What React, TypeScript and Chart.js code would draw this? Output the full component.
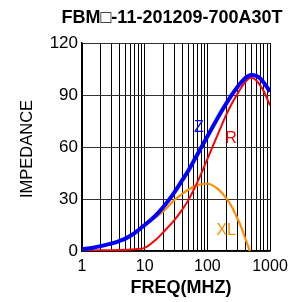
import React, { useEffect, useRef } from 'react';
import { Chart, registerables } from 'chart.js';

Chart.register(...registerables);

const TITLE = 'FBM\u25A1-11-201209-700A30T';
const X_TITLE = 'FREQ(MHZ)';
const Y_TITLE = 'IMPEDANCE';

const FREQ = [1, 1.5, 2, 3, 4, 5, 7, 10, 15, 20, 30, 40, 50, 70, 100, 150, 200, 250, 300, 350, 400, 450, 500, 600, 700, 800, 1000];
const Z_VALUES = [1, 1.9, 2.8, 4.4, 5.9, 7.3, 10.5, 15, 20.5, 25.5, 34, 41, 46.5, 56, 66, 77.5, 85, 90.5, 94.5, 97.5, 99.6, 100.9, 101.5, 101, 99.5, 97, 92];
const R_VALUES = [0.3, 0.35, 0.4, 0.5, 0.6, 0.7, 1, 1.8, 6.5, 11, 18, 24, 29.5, 40, 53, 68, 78.5, 85.5, 90.5, 94.5, 97.5, 99.3, 100, 98.5, 95.5, 92, 84];
const XL_VALUES = [1, 1.9, 2.8, 4.4, 5.9, 7.3, 10.5, 14.9, 19.5, 23, 29.5, 33, 35.5, 38, 38.8, 35.5, 30.5, 25, 19, 13.5, 7.5, 2.5, -3, -15, -25, -32, -40];

const X_GRID = [1, 2, 3, 4, 5, 6, 7, 8, 9, 10, 20, 30, 40, 50, 60, 70, 80, 90, 100, 200, 300, 400, 500, 600, 700, 800, 900, 1000];
const X_TICK_LABELS = [1, 10, 100, 1000];
const Y_MIN = 0;
const Y_MAX = 120;
const Y_STEP = 30;

const CURVE_LABELS = [
  { text: 'Z', f: 73.6, v: 71, color: '#0000ff' },
  { text: 'R', f: 239, v: 64.6, color: '#ff0000' },
  { text: 'XL', f: 200, v: 11.5, color: '#ff8c00' },
];

const FONT = '"Liberation Sans", Arial, Helvetica, sans-serif';

const textPlugin = {
  id: 'textPlugin',
  afterDraw(chart: any) {
    const { ctx, scales } = chart;
    ctx.save();
    ctx.textAlign = 'center';
    ctx.textBaseline = 'middle';
    ctx.fillStyle = '#000';
    ctx.font = `bold 18px ${FONT}`;
    ctx.fillText(TITLE, 172, 18);
    ctx.font = `bold 18px ${FONT}`;
    ctx.fillText(X_TITLE, 181, 288);
    ctx.save();
    ctx.translate(27, 149);
    ctx.rotate(-Math.PI / 2);
    ctx.font = `16.5px ${FONT}`;
    ctx.fillText(Y_TITLE, 0, 0);
    ctx.restore();
    ctx.font = `16px ${FONT}`;
    for (const l of CURVE_LABELS) {
      ctx.fillStyle = l.color;
      ctx.fillText(l.text, scales.x.getPixelForValue(l.f), scales.y.getPixelForValue(l.v));
    }
    ctx.restore();
  },
};

const toPoints = (ys: number[]) => FREQ.map((f, i) => ({ x: f, y: ys[i] }));

export default function App() {
  const ref = useRef<HTMLCanvasElement | null>(null);
  useEffect(() => {
    if (!ref.current) return;
    const chart = new Chart(ref.current, {
      type: 'line',
      data: {
        datasets: [
          { label: 'Z', data: toPoints(Z_VALUES), borderColor: '#0000ff', borderWidth: 4, pointRadius: 0, cubicInterpolationMode: 'monotone', order: 0 },
          { label: 'R', data: toPoints(R_VALUES), borderColor: '#ff0000', borderWidth: 2, pointRadius: 0, cubicInterpolationMode: 'monotone', order: 1 },
          { label: 'XL', data: toPoints(XL_VALUES), borderColor: '#ff8c00', borderWidth: 2.2, pointRadius: 0, cubicInterpolationMode: 'monotone', order: 2 },
        ],
      },
      options: {
        animation: false,
        responsive: false,
        maintainAspectRatio: false,
        layout: { padding: { left: 0, top: 43, right: 29, bottom: 0 } },
        plugins: { legend: { display: false }, tooltip: { enabled: false }, title: { display: false } },
        scales: {
          x: {
            type: 'logarithmic',
            min: 1,
            max: 1000,
            afterFit: (s: any) => { s.height = 51; },
            afterBuildTicks: (s: any) => { s.ticks = X_GRID.map((v) => ({ value: v })); },
            grid: { color: '#000', lineWidth: 1, drawTicks: false },
            border: { display: true, color: '#000', width: 1.5 },
            ticks: {
              autoSkip: false,
              maxRotation: 0,
              padding: 6,
              color: '#000',
              font: { family: FONT, size: 16 },
              callback: (v: any) => (X_TICK_LABELS.includes(Number(v)) ? String(v) : ''),
            },
          },
          y: {
            min: Y_MIN,
            max: Y_MAX,
            afterFit: (s: any) => { s.width = 82; },
            grid: { color: '#333', lineWidth: 1, drawTicks: false },
            border: { display: true, color: '#000', width: 1.5 },
            ticks: { stepSize: Y_STEP, padding: 4, color: '#000', font: { family: FONT, size: 17 } },
          },
        },
      },
      plugins: [textPlugin],
    } as any);
    return () => chart.destroy();
  }, []);
  return (
    <div style={{ position: 'fixed', left: 0, top: 0, width: 299, height: 302, background: '#fff' }}>
      <canvas ref={ref} width={299} height={302} />
    </div>
  );
}
